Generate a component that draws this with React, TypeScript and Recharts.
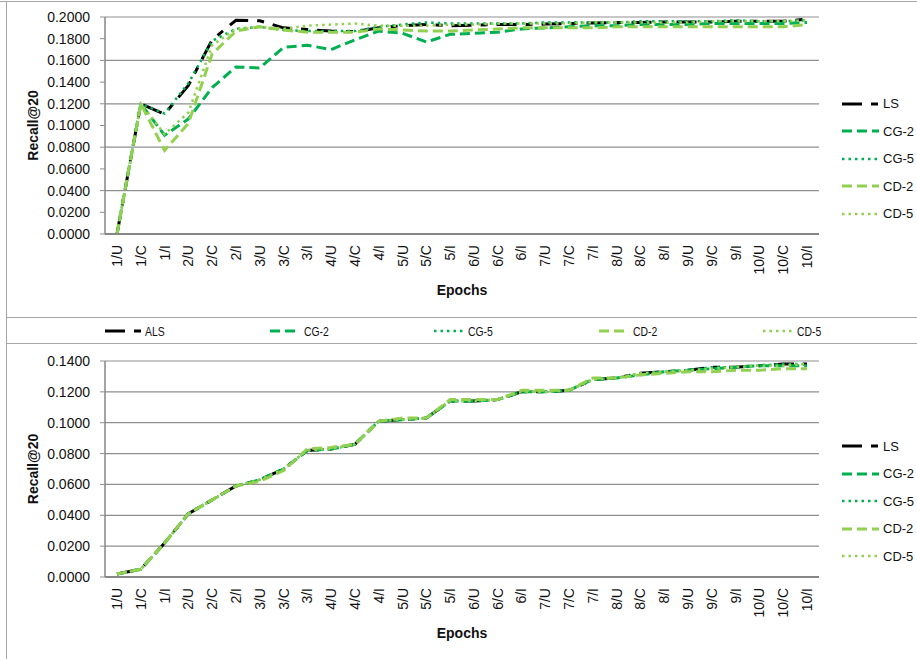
import React from "react";
import { LineChart, Line, XAxis, YAxis, CartesianGrid } from "recharts";

const epochs = [
  "1/U", "1/C", "1/I", "2/U", "2/C", "2/I", "3/U", "3/C", "3/I", "4/U",
  "4/C", "4/I", "5/U", "5/C", "5/I", "6/U", "6/C", "6/I", "7/U", "7/C",
  "7/I", "8/U", "8/C", "8/I", "9/U", "9/C", "9/I", "10/U", "10/C", "10/I",
];

// upper panel
const lsTop = [0.0, 0.12, 0.1105, 0.137, 0.179, 0.197, 0.1965, 0.19, 0.1885, 0.187, 0.1865, 0.19, 0.192, 0.193, 0.192, 0.1925, 0.193, 0.193, 0.1935, 0.194, 0.1945, 0.195, 0.195, 0.1955, 0.1955, 0.1955, 0.196, 0.196, 0.196, 0.198];
const cg2Top = [0.0, 0.12, 0.091, 0.106, 0.135, 0.154, 0.153, 0.172, 0.174, 0.17, 0.179, 0.187, 0.185, 0.177, 0.184, 0.185, 0.186, 0.189, 0.19, 0.191, 0.192, 0.192, 0.193, 0.193, 0.193, 0.194, 0.194, 0.194, 0.194, 0.195];
const cg5Top = [0.0, 0.12, 0.111, 0.139, 0.178, 0.189, 0.191, 0.188, 0.187, 0.187, 0.187, 0.191, 0.193, 0.195, 0.194, 0.194, 0.194, 0.194, 0.195, 0.195, 0.195, 0.195, 0.196, 0.196, 0.196, 0.196, 0.197, 0.196, 0.196, 0.197];
const cd2Top = [0.0, 0.12, 0.077, 0.102, 0.166, 0.187, 0.191, 0.188, 0.186, 0.186, 0.186, 0.189, 0.188, 0.187, 0.187, 0.188, 0.189, 0.19, 0.19, 0.19, 0.19, 0.191, 0.191, 0.191, 0.191, 0.191, 0.191, 0.191, 0.191, 0.193];
const cd5Top = [0.0, 0.12, 0.092, 0.112, 0.174, 0.189, 0.191, 0.189, 0.192, 0.193, 0.194, 0.192, 0.192, 0.192, 0.193, 0.193, 0.194, 0.194, 0.194, 0.194, 0.195, 0.195, 0.195, 0.195, 0.195, 0.196, 0.196, 0.196, 0.196, 0.197];

// lower panel
const lsBottom = [0.002, 0.005, 0.022, 0.041, 0.05, 0.059, 0.063, 0.07, 0.082, 0.083, 0.086, 0.101, 0.102, 0.103, 0.114, 0.114, 0.115, 0.12, 0.12, 0.121, 0.128, 0.129, 0.132, 0.133, 0.134, 0.136, 0.136, 0.137, 0.138, 0.138];
const cg2Bottom = [0.002, 0.005, 0.022, 0.041, 0.05, 0.059, 0.063, 0.07, 0.082, 0.083, 0.086, 0.101, 0.102, 0.103, 0.114, 0.114, 0.115, 0.12, 0.12, 0.121, 0.128, 0.129, 0.131, 0.133, 0.134, 0.135, 0.136, 0.137, 0.137, 0.137];
const cg5Bottom = [0.002, 0.005, 0.022, 0.041, 0.05, 0.059, 0.063, 0.07, 0.082, 0.083, 0.086, 0.101, 0.102, 0.103, 0.114, 0.114, 0.115, 0.12, 0.12, 0.121, 0.128, 0.129, 0.132, 0.133, 0.134, 0.136, 0.136, 0.137, 0.138, 0.138];
const cd2Bottom = [0.002, 0.005, 0.022, 0.041, 0.05, 0.059, 0.062, 0.069, 0.083, 0.084, 0.086, 0.101, 0.103, 0.103, 0.115, 0.115, 0.115, 0.121, 0.121, 0.121, 0.129, 0.129, 0.131, 0.132, 0.133, 0.133, 0.134, 0.134, 0.135, 0.135];
const cd5Bottom = [0.002, 0.005, 0.022, 0.041, 0.05, 0.059, 0.063, 0.07, 0.082, 0.083, 0.086, 0.101, 0.102, 0.103, 0.114, 0.114, 0.115, 0.12, 0.12, 0.121, 0.128, 0.129, 0.132, 0.133, 0.134, 0.135, 0.136, 0.137, 0.137, 0.138];

const seriesNames = ["LS", "CG-2", "CG-5", "CD-2", "CD-5"];
const stripNames = ["ALS", "CG-2", "CG-5", "CD-2", "CD-5"];

const topTicks = [0, 0.02, 0.04, 0.06, 0.08, 0.1, 0.12, 0.14, 0.16, 0.18, 0.2];
const bottomTicks = [0, 0.02, 0.04, 0.06, 0.08, 0.1, 0.12, 0.14];

const KEYS = ["ls", "cg2", "cg5", "cd2", "cd5"];
const DARK_GREEN = "#00B050";
const LIGHT_GREEN = "#92D050";
const LINE_STYLES = [
  { stroke: "#000000", dash: "20 9 7 9", width: 3 },
  { stroke: DARK_GREEN, dash: "10 5", width: 3 },
  { stroke: DARK_GREEN, dash: "2.5 4", width: 2.5 },
  { stroke: LIGHT_GREEN, dash: "10 5", width: 3 },
  { stroke: LIGHT_GREEN, dash: "2.5 4", width: 2.5 },
];

const FONT = "'Liberation Sans', Arial, sans-serif";
const GRID = "#8f8f8f";
const FRAME = "#a6a6a6";

const build = (cols: number[][]) =>
  epochs.map((epoch, i) => {
    const row: any = { epoch };
    KEYS.forEach((k, j) => (row[k] = cols[j][i]));
    return row;
  });

const topData = build([lsTop, cg2Top, cg5Top, cd2Top, cd5Top]);
const bottomData = build([lsBottom, cg2Bottom, cg5Bottom, cd2Bottom, cd5Bottom]);

const EpochTick = (props: any) => {
  const { x, y, payload } = props;
  return (
    <text
      x={x}
      y={y}
      transform={`rotate(-90 ${x} ${y})`}
      textAnchor="end"
      dominantBaseline="central"
      fontSize={14}
      fontFamily={FONT}
      fill="#111"
    >
      {payload.value}
    </text>
  );
};

const YTitle = (props: any) => {
  const vb = props.viewBox || { x: 0, y: 0, width: 105, height: 0 };
  const cx = vb.x + 33;
  const cy = vb.y + vb.height / 2;
  return (
    <text
      x={cx}
      y={cy}
      transform={`rotate(-90 ${cx} ${cy})`}
      textAnchor="middle"
      dominantBaseline="central"
      fontSize={14}
      fontWeight="bold"
      fontFamily={FONT}
      fill="#111"
    >
      Recall@20
    </text>
  );
};

const Swatch = ({ i, len }: { i: number; len: number }) => {
  const s = LINE_STYLES[i];
  return (
    <svg width={len} height={10} style={{ display: "block" }}>
      <line x1={0} y1={5} x2={len} y2={5} stroke={s.stroke} strokeWidth={s.width} strokeDasharray={s.dash} />
    </svg>
  );
};

const SideLegend = ({ names }: { names: string[] }) => (
  <div
    style={{
      position: "absolute",
      left: 842,
      top: 0,
      bottom: 0,
      display: "flex",
      flexDirection: "column",
      justifyContent: "center",
    }}
  >
    {names.map((n, i) => (
      <div key={n} style={{ display: "flex", alignItems: "center", height: 27.5 }}>
        <Swatch i={i} len={37} />
        <span style={{ marginLeft: 4, fontSize: 13, fontFamily: FONT, color: "#111" }}>{n}</span>
      </div>
    ))}
  </div>
);

interface PanelProps {
  top: number;
  height: number;
  plotTop: number;
  axisHeight: number;
  data: any[];
  ticks: number[];
  titleOffset: number;
}

const Panel = ({ top, height, plotTop, axisHeight, data, ticks, titleOffset }: PanelProps) => (
  <div style={{ position: "absolute", left: 0, top, width: 917, height }}>
    <LineChart width={917} height={height} data={data} margin={{ top: plotTop, right: 98, bottom: 0, left: 0 }}>
      <CartesianGrid vertical={false} stroke={GRID} strokeWidth={1.2} />
      <XAxis
        dataKey="epoch"
        interval={0}
        padding={{ left: 12, right: 12 }}
        height={axisHeight}
        tickLine={false}
        tickSize={0}
        tickMargin={11}
        tick={<EpochTick />}
        axisLine={{ stroke: "#868686", strokeWidth: 2 }}
        label={{
          value: "Epochs",
          position: "insideBottom",
          offset: titleOffset,
          fontSize: 14,
          fontWeight: "bold",
          fontFamily: FONT,
          fill: "#111",
        }}
      />
      <YAxis
        domain={[0, ticks[ticks.length - 1]]}
        ticks={ticks}
        width={105}
        tickSize={5}
        tickMargin={10}
        tickFormatter={(v: number) => v.toFixed(4)}
        tick={{ fontSize: 14, fill: "#111", fontFamily: FONT }}
        tickLine={{ stroke: GRID }}
        axisLine={{ stroke: "#868686", strokeWidth: 1.5 }}
        label={(p: any) => <YTitle {...p} />}
      />
      {KEYS.map((k, i) => (
        <Line
          key={k}
          dataKey={k}
          name={seriesNames[i]}
          type="linear"
          stroke={LINE_STYLES[i].stroke}
          strokeWidth={LINE_STYLES[i].width}
          strokeDasharray={LINE_STYLES[i].dash}
          dot={false}
          activeDot={false}
          isAnimationActive={false}
        />
      ))}
    </LineChart>
    <SideLegend names={seriesNames} />
  </div>
);

export default function App() {
  return (
    <div
      style={{
        position: "absolute",
        left: 0,
        top: 0,
        width: 917,
        height: 659,
        background: "#fff",
        overflow: "hidden",
      }}
    >
      {/* frame rules */}
      <div style={{ position: "absolute", left: 0, top: 1, width: 917, borderTop: `1.5px solid ${FRAME}` }} />
      <div style={{ position: "absolute", left: 6, top: 1, height: 658, borderLeft: `1.5px solid ${FRAME}` }} />
      <div style={{ position: "absolute", left: 6, top: 317, width: 911, borderTop: `1.5px solid ${FRAME}` }} />
      <div style={{ position: "absolute", left: 6, top: 343, width: 911, borderTop: `1.5px solid ${FRAME}` }} />

      <Panel top={0} height={317} plotTop={17} axisHeight={83} data={topData} ticks={topTicks} titleOffset={22} />

      {/* legend strip between the panels, condensed text */}
      <div style={{ position: "absolute", left: 105, top: 322, height: 18, display: "flex", alignItems: "center" }}>
        {stripNames.map((n, i) => (
          <div key={n} style={{ width: 164.5, display: "flex", alignItems: "center" }}>
            <Swatch i={i} len={i === 0 ? 36 : 30} />
            <span
              style={{
                marginLeft: 4,
                fontSize: 13,
                fontFamily: FONT,
                color: "#111",
                display: "inline-block",
                transform: "scaleX(0.8)",
                transformOrigin: "left center",
              }}
            >
              {n}
            </span>
          </div>
        ))}
      </div>

      <Panel top={343} height={316} plotTop={18} axisHeight={82} data={bottomData} ticks={bottomTicks} titleOffset={21} />
    </div>
  );
}
